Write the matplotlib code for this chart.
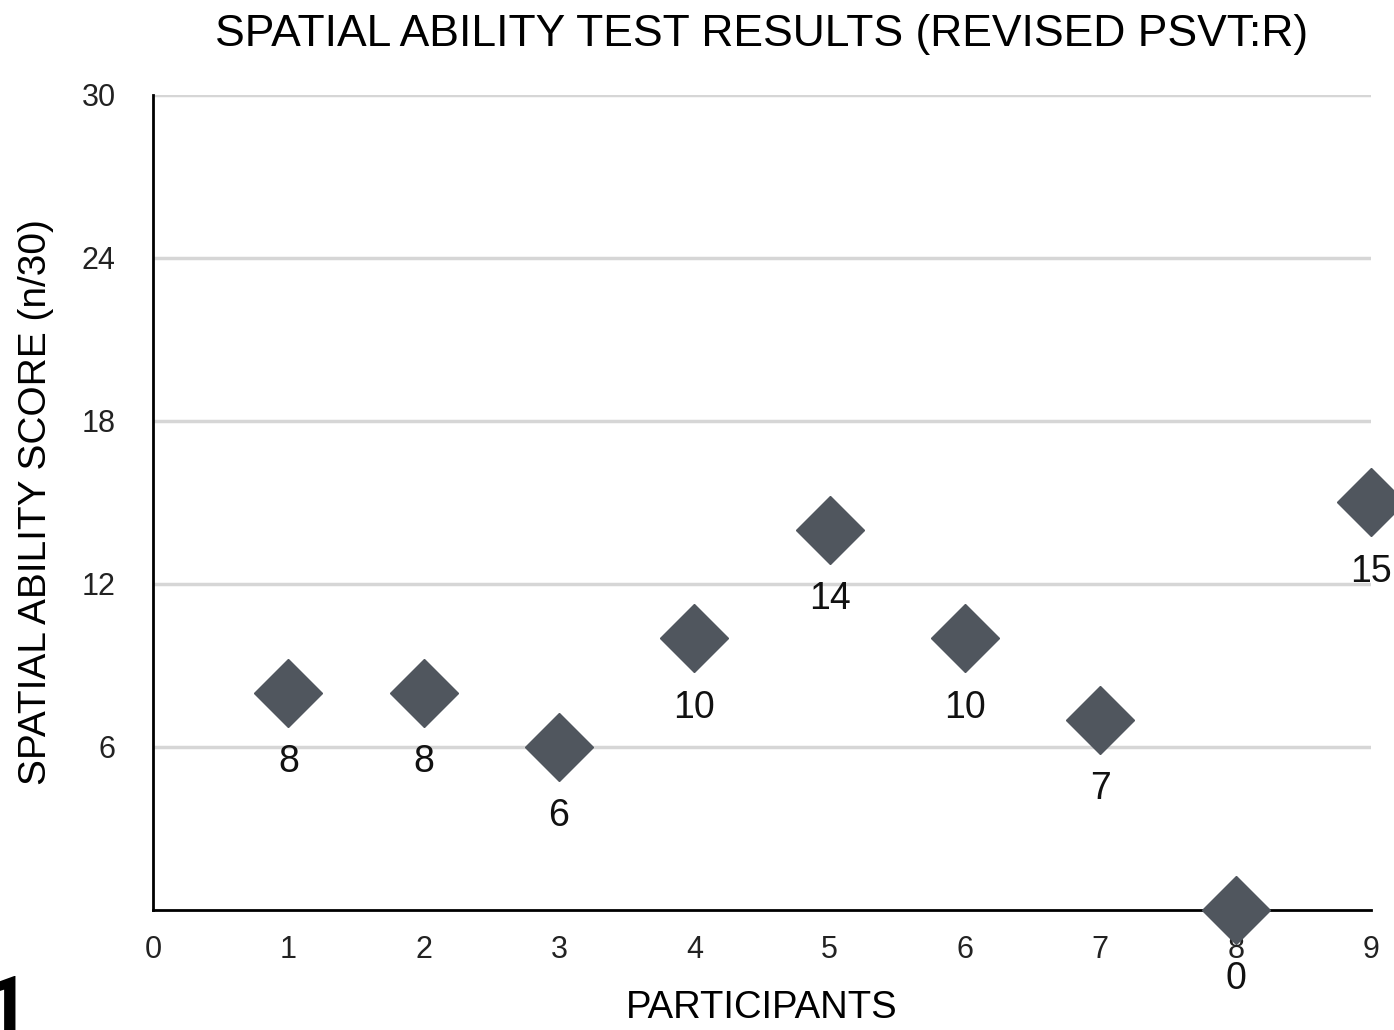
import matplotlib.pyplot as plt

# data
participants = [1, 2, 3, 4, 5, 6, 7, 8, 9]
scores = [8, 8, 6, 10, 14, 10, 7, 0, 15]
x_ticks = [0, 1, 2, 3, 4, 5, 6, 7, 8, 9]
y_ticks = [6, 12, 18, 24, 30]

plt.rcParams['font.family'] = ['Liberation Sans', 'DejaVu Sans']

fig = plt.figure(figsize=(13.94, 10.30), dpi=100)
ax = fig.add_axes([0.1098, 0.1165, 0.8737, 0.7913])

ax.set_xlim(0, 9)
ax.set_ylim(0, 30)
ax.set_xticks(x_ticks)
ax.set_yticks(y_ticks)
ax.tick_params(axis='both', length=0, labelsize=22, colors='#222222')
ax.tick_params(axis='x', pad=18)
ax.tick_params(axis='y', pad=27)

# light horizontal grid
ax.grid(axis='y', color='#d6d6d6', linewidth=2.5)
ax.set_axisbelow(True)
for side in ['top', 'right']:
    ax.spines[side].set_visible(False)
ax.spines['left'].set_linewidth(2)
ax.spines['bottom'].set_linewidth(2)

ax.plot(participants, scores, linestyle='none', marker='D', markersize=35,
        color='#50565e', clip_on=False, zorder=5)

# value labels under each marker
for x, y in zip(participants, scores):
    ax.annotate(str(y), (x, y), xytext=(0, -50), textcoords='offset points',
                ha='center', va='center', fontsize=27, color='#111111',
                annotation_clip=False, zorder=6)

ax.set_title('SPATIAL ABILITY TEST RESULTS (REVISED PSVT:R)', fontsize=32, pad=35)
ax.set_xlabel('PARTICIPANTS', fontsize=27.5, labelpad=18)
ax.set_ylabel('SPATIAL ABILITY SCORE (n/30)', fontsize=28, labelpad=20)

# figure number, partly cut off at the lower left corner
fig.text(-0.012, -0.02, '1', fontsize=58, fontweight='bold', family=['Roboto', 'DejaVu Sans'],
         ha='left', va='bottom')

fig.savefig('out.png', dpi=100)
